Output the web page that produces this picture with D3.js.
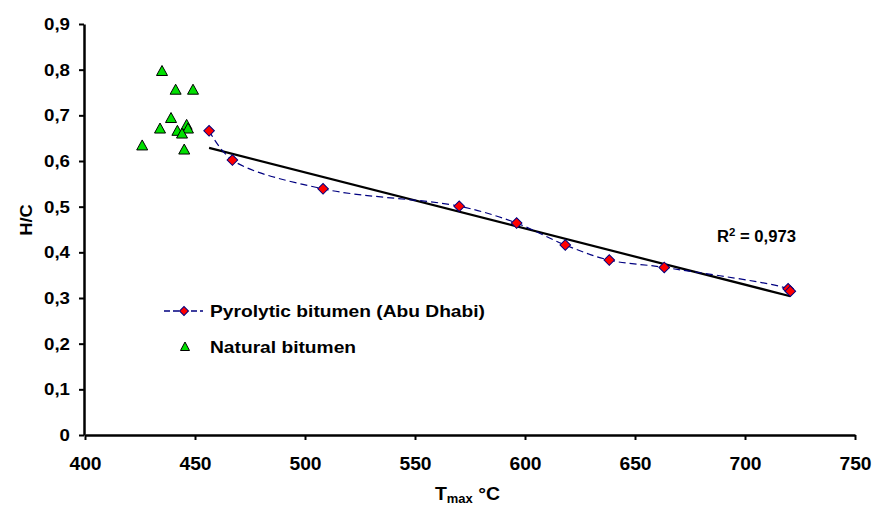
<!DOCTYPE html>
<html><head><meta charset="utf-8">
<script src="https://cdn.jsdelivr.net/npm/d3@7"></script>
<style>
body{margin:0;background:#fff;}
text{font-family:"Liberation Sans",Arial,sans-serif;font-weight:bold;}
</style></head><body>
<svg id="c" width="872" height="506"></svg>
<script>
const pyroT = [456.4, 467, 508.2, 570.1, 596.2, 618.3, 638.3, 663.3, 719.6, 720.6];
const pyroHC = [0.666, 0.602, 0.539, 0.501, 0.464, 0.416, 0.383, 0.367, 0.320, 0.315];
const natT = [435, 441.2, 449.1, 439.1, 434.1, 442, 446.2, 446.8, 444.1, 426, 445.1];
const natHC = [0.796, 0.755, 0.755, 0.693, 0.670, 0.665, 0.678, 0.670, 0.659, 0.633, 0.624];
const xTicks = [400, 450, 500, 550, 600, 650, 700, 750];
const yTicks = [0, 0.1, 0.2, 0.3, 0.4, 0.5, 0.6, 0.7, 0.8, 0.9];
const seriesNames = ["Pyrolytic bitumen (Abu Dhabi)", "Natural bitumen"];
const r2Label = "0,973";

const svg = d3.select("#c");
const x = d3.scaleLinear().domain([400, 750]).range([85, 855]);
const y = d3.scaleLinear().domain([0, 0.9]).range([435, 24]);
const fmt = d => d === 0 ? "0" : d3.format(".1f")(d).replace(".", ",");
const FF = "'Liberation Sans',Arial,sans-serif";

// axes
const xa = svg.append("g").attr("transform", "translate(0,435)")
  .call(d3.axisBottom(x).tickValues(xTicks).tickSize(5).tickPadding(12).tickSizeOuter(0));
const ya = svg.append("g").attr("transform", "translate(84,0)")
  .call(d3.axisLeft(y).tickValues(yTicks).tickFormat(fmt).tickSize(5).tickPadding(9).tickSizeOuter(0));
[xa, ya].forEach(a => {
  a.select(".domain").attr("stroke", "#000").attr("stroke-width", 2.5);
  a.selectAll(".tick line").attr("stroke", "#000").attr("stroke-width", 2);
  a.selectAll(".tick text").attr("fill", "#000")
   .style("font-family", FF).style("font-weight", "bold");
});
xa.selectAll(".tick text").style("font-size", "18px").attr("y", 22).attr("dy", "0.71em")
  .attr("transform", "scale(1.07,1)");
ya.selectAll(".tick text").style("font-size", "17px").attr("x", -14 / 1.1)
  .attr("transform", "scale(1.1,1)");

// axis titles
svg.append("text").attr("transform", "translate(26,220) rotate(-90) scale(1.15,1)")
  .attr("text-anchor", "middle").attr("dy", "0.35em").style("font-size", "16px").text("H/C");
const xt = svg.append("text").attr("x", 0).attr("y", 0)
  .attr("transform", "translate(435,500) scale(1.08,1)").style("font-size", "18px");
xt.append("tspan").text("T");
xt.append("tspan").attr("dy", 3).style("font-size", "12px").text("max");
xt.append("tspan").attr("dy", -3).text(" °C");

// regression
const n = pyroT.length;
const mx = d3.mean(pyroT), my = d3.mean(pyroHC);
let sxy = 0, sxx = 0;
for (let i = 0; i < n; i++) { sxy += (pyroT[i]-mx)*(pyroHC[i]-my); sxx += (pyroT[i]-mx)**2; }
const b = sxy / sxx, a0 = my - b * mx;
const xmin = d3.min(pyroT), xmax = d3.max(pyroT);
svg.append("line").attr("x1", x(xmin)).attr("y1", y(a0 + b*xmin))
  .attr("x2", x(xmax)).attr("y2", y(a0 + b*xmax))
  .attr("stroke", "#000").attr("stroke-width", 2.2);

// smooth dashed line
const pts = pyroT.map((t, i) => [t, pyroHC[i]]);
svg.append("path").datum(pts)
  .attr("d", d3.line().x(d => x(d[0])).y(d => y(d[1])).curve(d3.curveCatmullRom.alpha(0.5)))
  .attr("fill", "none").attr("stroke", "#000080").attr("stroke-width", 1.2).attr("stroke-dasharray", "7,4");

const diamond = d3.symbol().type(d3.symbolSquare).size(56)();
svg.selectAll(".dia").data(pts).join("path")
  .attr("d", diamond).attr("transform", d => `translate(${x(d[0])},${y(d[1])}) rotate(45)`)
  .attr("fill", "#ff0000").attr("stroke", "#000080").attr("stroke-width", 1);

const tri = "M0,-6L5.5,4L-5.5,4Z";
svg.selectAll(".tri").data(natT.map((t, i) => [t, natHC[i]])).join("path")
  .attr("d", tri).attr("transform", d => `translate(${x(d[0])},${y(d[1])})`)
  .attr("fill", "#00e000").attr("stroke", "#000").attr("stroke-width", 1);

// R2 label
const rt = svg.append("text").attr("transform", "translate(717,242) scale(1.04,1)").style("font-size", "16px");
rt.append("tspan").text("R");
rt.append("tspan").attr("dy", -6).style("font-size", "11px").text("2");
rt.append("tspan").attr("dy", 6).text(" = " + r2Label);

// legend
svg.append("line").attr("x1", 164).attr("x2", 203).attr("y1", 311).attr("y2", 311)
  .attr("stroke", "#000080").attr("stroke-width", 1.5).attr("stroke-dasharray", "6,3");
svg.append("path").attr("d", d3.symbol().type(d3.symbolSquare).size(40)())
  .attr("transform", "translate(184,311) rotate(45)")
  .attr("fill", "#ff0000").attr("stroke", "#000080");
svg.append("text").attr("transform", "translate(210,317) scale(1.2,1)").style("font-size", "16px").text(seriesNames[0]);
svg.append("path").attr("d", "M0,-5L4.5,3.5L-4.5,3.5Z").attr("transform", "translate(185,347)")
  .attr("fill", "#00e000").attr("stroke", "#000");
svg.append("text").attr("transform", "translate(210,353) scale(1.2,1)").style("font-size", "16px").text(seriesNames[1]);
</script>
</body></html>
